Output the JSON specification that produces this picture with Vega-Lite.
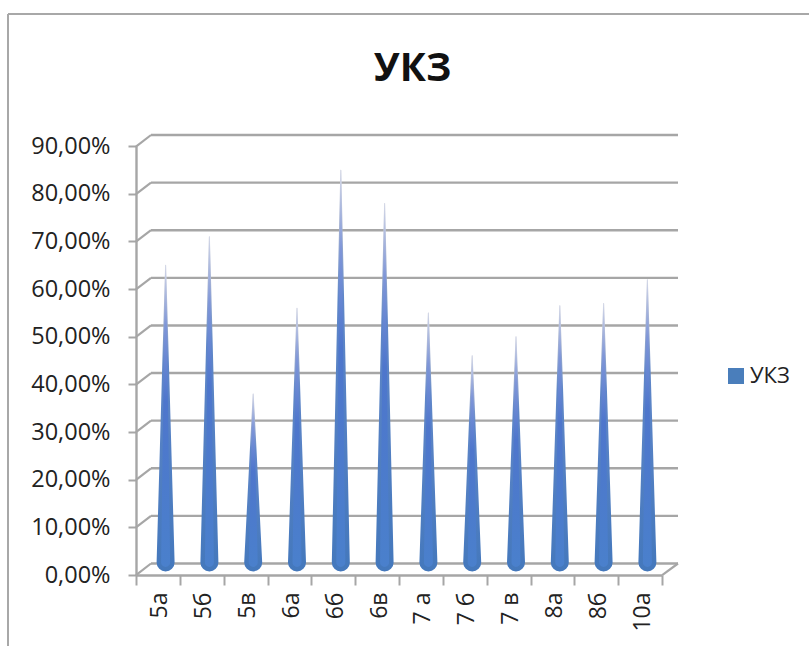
{
"$schema":"https://vega.github.io/schema/vega-lite/v6.json",
"width":801,"height":632,
"padding":{"left":8,"top":14,"right":0,"bottom":0},
"autosize":"none",
"background":"white",
"view":{"stroke":null},
"title":{"text":"УКЗ","font":"Open Sans","fontSize":39,"fontWeight":"bold","color":"#111111","anchor":"middle","frame":"group","offset":0,"dx":4,"dy":107,"baseline":"alphabetic"},
"config":{"font":"Open Sans"},
"datasets":{
"cones":[
{"class":"5а","base":0.016,"value":0.64},
{"class":"5б","base":0.016,"value":0.70},
{"class":"5в","base":0.016,"value":0.37},
{"class":"6а","base":0.016,"value":0.55},
{"class":"6б","base":0.016,"value":0.84},
{"class":"6в","base":0.016,"value":0.77},
{"class":"7 а","base":0.016,"value":0.54},
{"class":"7 б","base":0.016,"value":0.45},
{"class":"7 в","base":0.016,"value":0.49},
{"class":"8а","base":0.016,"value":0.555},
{"class":"8б","base":0.016,"value":0.56},
{"class":"10а","base":0.016,"value":0.61}
],
"grid":[
{"level":0,"front":-0.0242},{"level":0.1,"front":0.0758},{"level":0.2,"front":0.1758},{"level":0.3,"front":0.2758},{"level":0.4,"front":0.3758},{"level":0.5,"front":0.4758},{"level":0.6,"front":0.5758},{"level":0.7,"front":0.6758},{"level":0.8,"front":0.7758},{"level":0.9,"front":0.8758}
],
"frame":[{"a":0,"b":1}]
},
"layer":[
{"data":{"name":"frame"},"mark":{"type":"rule","color":"#a8a8a8","strokeWidth":2,"clip":false},
 "encoding":{"x":{"datum":0,"type":"quantitative","scale":{"domain":[0,1]},"axis":null},"y":{"field":"a","type":"quantitative","scale":{"domain":[0,1]},"axis":null},"y2":{"field":"b"}}},
{"data":{"name":"frame"},"mark":{"type":"rule","color":"#a8a8a8","strokeWidth":2,"clip":false},
 "encoding":{"y":{"datum":1,"type":"quantitative","scale":{"domain":[0,1]},"axis":null},"x":{"field":"a","type":"quantitative","scale":{"domain":[0,1]},"axis":null},"x2":{"field":"b"}}},
{"data":{"name":"grid"},"mark":{"type":"rule","color":"#a6a6a6","strokeWidth":2.4},
 "encoding":{"y":{"field":"level","type":"quantitative","scale":{"domain":[0,0.9],"range":[549.5,121]},"axis":null},
 "x":{"datum":0,"type":"quantitative","scale":{"domain":[0,12],"range":[143,670]},"axis":null},"x2":{"datum":12}}},
{"data":{"name":"grid"},"mark":{"type":"rule","color":"#a6a6a6","strokeWidth":2.2},
 "encoding":{"y":{"field":"front","type":"quantitative","scale":{"domain":[0,0.9],"range":[549.5,121]},"axis":null},"y2":{"field":"level"},
 "x":{"datum":-0.342,"type":"quantitative","scale":{"domain":[0,12],"range":[143,670]},"axis":null},"x2":{"datum":0}}},
{"data":{"values":[{"level":0,"front":-0.0242}]},"mark":{"type":"rule","color":"#a6a6a6","strokeWidth":2.2},
 "encoding":{"y":{"field":"front","type":"quantitative","scale":{"domain":[0,0.9],"range":[549.5,121]},"axis":null},"y2":{"field":"level"},
 "x":{"datum":11.64,"type":"quantitative","scale":{"domain":[0,12],"range":[143,670]},"axis":null},"x2":{"datum":12}}},
{"data":{"name":"cones"},"mark":{"type":"point","shape":"square","filled":true,"opacity":0},
 "encoding":{
 "x":{"field":"class","type":"nominal","sort":null,"scale":{"type":"band","paddingInner":0,"paddingOuter":0,"range":[128,654]},
  "axis":{"title":null,"orient":"bottom","offset":-71,"tickBand":"extent","tickSize":10,"tickColor":"#a6a6a6","tickWidth":2,"domainColor":"#a6a6a6","domainWidth":2.4,"labelAngle":-90,"labelAlign":"right","labelBaseline":"middle","labelFontSize":23,"labelFont":"Open Sans","labelColor":"#222222","labelPadding":7,"labelOffset":2}},
 "y":{"field":"value","type":"quantitative","scale":{"domain":[0,0.9],"range":[561,132]},
  "axis":{"title":null,"orient":"left","offset":-128,"values":[0,0.1,0.2,0.3,0.4,0.5,0.6,0.7,0.8,0.9],"grid":false,"tickSize":8,"tickColor":"#a6a6a6","tickWidth":2,"domainColor":"#a6a6a6","domainWidth":2.4,"labelExpr":"replace(format(datum.value,'.2%'),'.',',')","labelFontSize":23.5,"labelFont":"Open Sans","labelColor":"#222222","labelPadding":18}},
 "color":{"datum":"УКЗ","type":"nominal","scale":{"range":["#4a7ebb"]},
  "legend":{"title":null,"orient":"none","legendX":717,"legendY":351,"symbolType":"square","symbolSize":256,"symbolOpacity":1,"symbolStrokeWidth":0,"labelFontSize":22,"labelFont":"Open Sans","labelColor":"#222222","labelOffset":3}}}},
{"data":{"name":"cones"},"transform":[{"fold":["base","value"],"as":["end","pct"]}],
 "mark":{"type":"trail","fill":{"gradient":"linear","x1":0,"y1":0,"x2":0,"y2":1,"stops":[{"offset":0,"color":"#e6e6ec"},{"offset":0.14,"color":"#a8b4d0"},{"offset":0.32,"color":"#5f86c8"},{"offset":1,"color":"#4478bc"}]}},
 "encoding":{
 "x":{"field":"class","type":"nominal","sort":null,"scale":{"type":"point","padding":0.5,"range":[135.7,661.3]},"axis":null},
 "y":{"field":"pct","type":"quantitative","scale":{"domain":[0,0.9],"range":[556,127.6]},"axis":null},
 "detail":{"field":"class"},
 "order":{"field":"end"},
 "size":{"field":"end","type":"ordinal","scale":{"domain":["base","value"],"range":[18,0]},"legend":null}}},
{"data":{"name":"cones"},"transform":[{"fold":["base","value"],"as":["end","pct"]}],
 "mark":{"type":"trail","fill":{"gradient":"linear","x1":0,"y1":0,"x2":0,"y2":1,"stops":[{"offset":0,"color":"#d4d8e6"},{"offset":0.2,"color":"#7f96d8"},{"offset":0.45,"color":"#4e76cc"},{"offset":1,"color":"#4a80cc"}]}},
 "encoding":{
 "x":{"field":"class","type":"nominal","sort":null,"scale":{"type":"point","padding":0.5,"range":[135.7,661.3]},"axis":null},
 "y":{"field":"pct","type":"quantitative","scale":{"domain":[0,0.9],"range":[556,127.6]},"axis":null},
 "detail":{"field":"class"},
 "order":{"field":"end"},
 "size":{"field":"end","type":"ordinal","scale":{"domain":["base","value"],"range":[9,0]},"legend":null}}}
],
"resolve":{"scale":{"x":"independent","y":"independent","size":"independent"},"axis":{"x":"independent","y":"independent"}}
}
